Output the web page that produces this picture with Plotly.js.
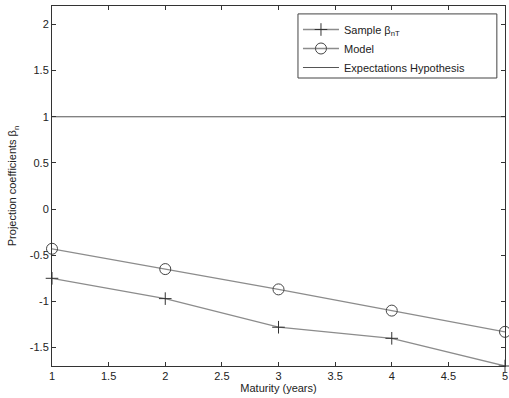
<!DOCTYPE html>
<html>
<head>
<meta charset="utf-8">
<script src="https://cdn.plot.ly/plotly-3.0.1.min.js"></script>
<style>html,body{margin:0;padding:0;background:#fff;}#chart{width:509px;height:398px;}</style>
</head>
<body>
<div id="chart"></div>
<script>
const maturity = [1, 2, 3, 4, 5];
const sampleBeta = [-0.75, -0.97, -1.28, -1.40, -1.70];
const modelBeta = [-0.43, -0.65, -0.87, -1.10, -1.33];
const ehX = [1, 5];
const ehY = [1, 1];
const xTicks = [1, 1.5, 2, 2.5, 3, 3.5, 4, 4.5, 5];
const yTicks = [-1.5, -1, -0.5, 0, 0.5, 1, 1.5, 2];

const grey = '#8c8c8c';
const traces = [
  {x: maturity, y: sampleBeta, name: 'Sample β<sub>nT</sub>', mode: 'lines+markers',
   line: {color: grey, width: 1.3},
   marker: {symbol: 'cross-thin-open', size: 9, color: '#333', line: {color: '#333', width: 1}},
   cliponaxis: false},
  {x: maturity, y: modelBeta, name: 'Model', mode: 'lines+markers',
   line: {color: grey, width: 1.3},
   marker: {symbol: 'circle-open', size: 11, color: '#444', line: {color: '#444', width: 1}},
   cliponaxis: false},
  {x: ehX, y: ehY, name: 'Expectations Hypothesis', mode: 'lines',
   line: {color: '#555', width: 1}}
];

const axisCommon = {
  showgrid: false, zeroline: false, showline: true, linecolor: '#333', linewidth: 1,
  mirror: 'ticks', ticks: 'inside', ticklen: 4, tickcolor: '#333',
  tickfont: {family: 'Liberation Sans, Arial, sans-serif', size: 11, color: '#222'}
};

const layout = {
  width: 509, height: 398,
  margin: {l: 52, r: 4, t: 6, b: 32},
  paper_bgcolor: '#fff', plot_bgcolor: '#fff',
  font: {family: 'Liberation Sans, Arial, sans-serif', size: 11, color: '#222'},
  showlegend: true,
  legend: {x: 0.543, y: 0.975, xanchor: 'left', yanchor: 'top',
           borderwidth: 0, bgcolor: 'rgba(0,0,0,0)', itemwidth: 36,
           font: {size: 11, color: '#222'}, tracegroupgap: 0},
  shapes: [{type: 'rect', xref: 'paper', yref: 'paper', x0: 0.543, x1: 0.982, y0: 0.8, y1: 0.978,
            line: {color: '#444', width: 1}, fillcolor: '#fff', layer: 'above'}],
  xaxis: Object.assign({}, axisCommon, {
    range: [1, 5], tickvals: xTicks, ticktext: xTicks.map(String),
    title: {text: 'Maturity (years)', standoff: 2, font: {size: 11}}
  }),
  yaxis: Object.assign({}, axisCommon, {
    range: [-1.7, 2.2], tickvals: yTicks, ticktext: yTicks.map(String),
    title: {text: 'Projection coefficients β<sub>n</sub>', standoff: 10, font: {size: 11}}
  })
};

Plotly.newPlot('chart', traces, layout, {displayModeBar: false, staticPlot: true});
</script>
</body>
</html>
